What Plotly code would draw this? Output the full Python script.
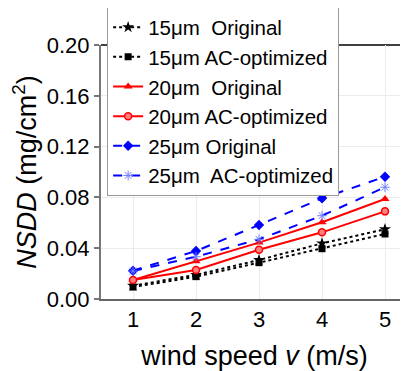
import plotly.graph_objects as go

wind = [1, 2, 3, 4, 5]
s15_orig = [0.0105, 0.0190, 0.0307, 0.0438, 0.0549]
s15_ac = [0.0094, 0.0176, 0.0286, 0.0396, 0.0512]
s20_orig = [0.0150, 0.0297, 0.0444, 0.0604, 0.0787]
s20_ac = [0.0150, 0.0228, 0.0388, 0.0525, 0.0690]
s25_orig = [0.0223, 0.0378, 0.0583, 0.0793, 0.0963]
s25_ac = [0.0220, 0.0333, 0.0470, 0.0656, 0.0880]
names = ["15μm  Original", "15μm AC-optimized", "20μm  Original",
         "20μm AC-optimized", "25μm Original", "25μm  AC-optimized"]
y_ticks = [0.00, 0.04, 0.08, 0.12, 0.16, 0.20]

series = [
    (s15_orig, "black", "dot", "star", "black", 9),
    (s15_ac, "black", "dot", "square", "black", 7),
    (s20_orig, "#ff0000", "solid", "triangle-up", "#ff0000", 8),
    (s20_ac, "#ff0000", "solid", "circle", "#ff8080", 7),
    (s25_orig, "#0000ff", "dash", "diamond", "#0000ff", 8),
    (s25_ac, "#0000ff", "dash", "asterisk-open", "#6f7fff", 8),
]

fig = go.Figure()
for vals, col, dash, sym, mcol, msz, in series:
    i = len(fig.data)
    marker = dict(symbol=sym, size=msz, color=mcol)
    if sym == "circle":
        marker["line"] = dict(color="#ff0000", width=1.5)
    if sym == "asterisk-open":
        marker["line"] = dict(color=mcol, width=1)
    fig.add_trace(go.Scatter(
        x=wind, y=vals, name=names[i], mode="lines+markers",
        line=dict(color=col, dash=dash, width=2),
        marker=marker,
    ))

# page body has an 8px default margin, so the figure is drawn 8px in
fig.update_layout(
    width=400, height=363, autosize=False,
    margin=dict(l=93, r=0, t=37, b=72, autoexpand=False),
    paper_bgcolor="white", plot_bgcolor="white",
    font=dict(family="Liberation Sans, Arial, sans-serif", size=20, color="black"),
    showlegend=True,
    legend=dict(
        x=0.02, y=0.404, xanchor="left", yanchor="bottom",
        bgcolor="white", bordercolor="#999999", borderwidth=1,
        font=dict(size=20.5), tracegroupgap=0, itemwidth=30,
    ),
    xaxis=dict(
        range=[0.492, 5.365], tickvals=wind, ticktext=[str(v) for v in wind],
        showline=True, linecolor="#666666", linewidth=2,
        showgrid=True, gridcolor="#ebebeb", gridwidth=1,
        ticks="", tickfont=dict(size=22), zeroline=False, automargin=False,
        title=dict(text="wind speed <i>v</i> (m/s)", font=dict(size=27), standoff=17),
    ),
    yaxis=dict(
        range=[0, 0.20], tickvals=y_ticks, ticktext=[f"{v:.2f}" for v in y_ticks],
        showline=True, linecolor="#777777", linewidth=2,
        showgrid=True, gridcolor="#ebebeb", gridwidth=1,
        ticks="outside", ticklen=5, tickcolor="#777777", tickwidth=1.5,
        tickfont=dict(size=22), zeroline=False, automargin=False,
        title=dict(text="<i>NSDD</i> (mg/cm<sup>2</sup>)", font=dict(size=27), standoff=8),
    ),
)
fig.add_shape(type="line", xref="paper", yref="paper", x0=0, x1=1, y0=1, y1=1,
              line=dict(color="black", width=1.5), layer="below")

fig.write_html("out.html")
